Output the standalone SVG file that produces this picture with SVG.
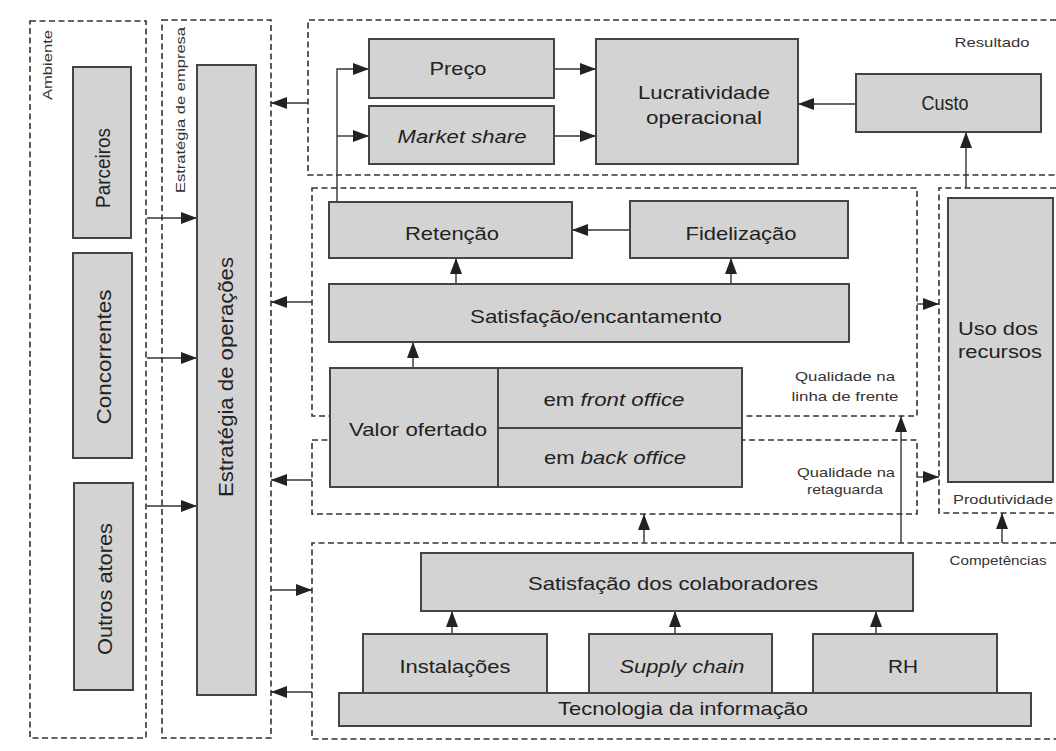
<svg xmlns="http://www.w3.org/2000/svg" width="1056" height="751" viewBox="0 0 1056 751">
  <style>
    text { font-family: "Liberation Sans", Arial, sans-serif; fill: #222; }
    .lbl { font-size: 18.5px; text-anchor: middle; }
    .big { font-size: 20px; text-anchor: middle; }
    .vlbl { font-size: 21px; text-anchor: middle; }
    .small { font-size: 13.5px; text-anchor: middle; fill: #333; }
    .vsmall { font-size: 13.5px; text-anchor: middle; fill: #333; }
    .it { font-style: italic; }
    .box { fill: #d3d3d3; stroke: #444; stroke-width: 2; }
    .div { fill: none; stroke: #444; stroke-width: 2; }
    .zone { fill: none; stroke: #333; stroke-width: 1.6; stroke-dasharray: 6 3.5; }
    .conn { fill: none; stroke: #333; stroke-width: 1.4; marker-end: url(#arrow); }
  </style>
  <defs>
    <marker id="arrow" markerUnits="userSpaceOnUse" markerWidth="16" markerHeight="12" refX="16" refY="6" orient="auto">
      <path d="M0,0 L16,6 L0,12 z" fill="#222"/>
    </marker>
  </defs>

  <rect x="0" y="0" width="1056" height="751" fill="#ffffff"/>

  <!-- dashed zones -->
  <g id="zones">
    <rect id="zone-ambiente" class="zone" x="30" y="21" width="116" height="717"/>
    <rect id="zone-estrategia-empresa" class="zone" x="162" y="20" width="109" height="718"/>
    <path id="zone-resultado" class="zone" d="M1056,20 H308 V175 H1056"/>
    <rect id="zone-linha-frente" class="zone" x="312" y="188" width="605" height="228"/>
    <rect id="zone-retaguarda" class="zone" x="312" y="440" width="605" height="74"/>
    <path id="zone-produtividade" class="zone" d="M1056,188 H939 V513 H1056"/>
    <path id="zone-competencias" class="zone" d="M1056,543 H312 V739 H1056"/>
    <text class="vsmall" transform="translate(52,65) rotate(-90)" textLength="70" lengthAdjust="spacingAndGlyphs">Ambiente</text>
    <text class="vsmall" transform="translate(185,110) rotate(-90)" textLength="166" lengthAdjust="spacingAndGlyphs">Estratégia de empresa</text>
    <text class="small" x="992" y="47" textLength="75" lengthAdjust="spacingAndGlyphs">Resultado</text>
    <text class="small" x="845" y="381" textLength="100" lengthAdjust="spacingAndGlyphs">Qualidade na</text>
    <text class="small" x="845" y="401" textLength="107" lengthAdjust="spacingAndGlyphs">linha de frente</text>
    <text class="small" x="846" y="477" textLength="98" lengthAdjust="spacingAndGlyphs">Qualidade na</text>
    <text class="small" x="845" y="494" textLength="76" lengthAdjust="spacingAndGlyphs">retaguarda</text>
    <text class="small" x="1003" y="504" textLength="100" lengthAdjust="spacingAndGlyphs">Produtividade</text>
    <text class="small" x="998" y="565" textLength="97" lengthAdjust="spacingAndGlyphs">Competências</text>
  </g>

  <!-- connectors -->
  <g id="connectors">
    <path class="conn" d="M147,218 H197"/>
    <path class="conn" d="M147,358 H197"/>
    <path class="conn" d="M147,506 H197"/>
    <path class="conn" d="M308,103 H271"/>
    <path class="conn" d="M312,302 H271"/>
    <path class="conn" d="M312,480 H271"/>
    <path class="conn" d="M312,692 H271"/>
    <path class="conn" d="M271,590 H312"/>
    <path class="conn" d="M337,202 V69 H369"/>
    <path class="conn" d="M337,136 H369"/>
    <path class="conn" d="M554,69 H596"/>
    <path class="conn" d="M554,136 H596"/>
    <path class="conn" d="M856,104 H798"/>
    <path class="conn" d="M966,188 V132"/>
    <path class="conn" d="M630,230 H572"/>
    <path class="conn" d="M456,284 V258"/>
    <path class="conn" d="M731,284 V258"/>
    <path class="conn" d="M413,368 V342"/>
    <path class="conn" d="M917,304 H939"/>
    <path class="conn" d="M917,477 H939"/>
    <path class="conn" d="M644,543 V514"/>
    <path class="conn" d="M901,543 V416"/>
    <path class="conn" d="M1002,543 V513"/>
    <path class="conn" d="M452,634 V611"/>
    <path class="conn" d="M675,634 V611"/>
    <path class="conn" d="M876,634 V611"/>
  </g>

  <!-- environment actors -->
  <g id="parceiros">
    <rect class="box" x="73" y="67" width="58" height="171"/>
    <text class="vlbl" transform="translate(110,168) rotate(-90)" textLength="80" lengthAdjust="spacingAndGlyphs">Parceiros</text>
  </g>
  <g id="concorrentes">
    <rect class="box" x="73" y="253" width="59" height="205"/>
    <text class="vlbl" transform="translate(111,357) rotate(-90)" textLength="135" lengthAdjust="spacingAndGlyphs">Concorrentes</text>
  </g>
  <g id="outros-atores">
    <rect class="box" x="74" y="483" width="59" height="207"/>
    <text class="vlbl" transform="translate(112,589) rotate(-90)" textLength="132" lengthAdjust="spacingAndGlyphs">Outros atores</text>
  </g>
  <g id="estrategia-operacoes">
    <rect class="box" x="197" y="65" width="59" height="630"/>
    <text class="vlbl" transform="translate(233,377) rotate(-90)" textLength="240" lengthAdjust="spacingAndGlyphs">Estratégia de operações</text>
  </g>

  <!-- results -->
  <g id="preco">
    <rect class="box" x="369" y="39" width="185" height="59"/>
    <text class="lbl" x="458" y="75" textLength="57" lengthAdjust="spacingAndGlyphs">Preço</text>
  </g>
  <g id="market-share">
    <rect class="box" x="369" y="106" width="185" height="58"/>
    <text class="lbl it" x="462" y="143" textLength="129" lengthAdjust="spacingAndGlyphs">Market share</text>
  </g>
  <g id="lucratividade">
    <rect class="box" x="596" y="39" width="202" height="125"/>
    <text class="lbl" x="704" y="99" textLength="132" lengthAdjust="spacingAndGlyphs">Lucratividade</text>
    <text class="lbl" x="704" y="124" textLength="116" lengthAdjust="spacingAndGlyphs">operacional</text>
  </g>
  <g id="custo">
    <rect class="box" x="856" y="74" width="185" height="58"/>
    <text class="big" x="945" y="110" textLength="47" lengthAdjust="spacingAndGlyphs">Custo</text>
  </g>

  <!-- front-line quality -->
  <g id="retencao">
    <rect class="box" x="329" y="202" width="243" height="56"/>
    <text class="lbl" x="452" y="240" textLength="94" lengthAdjust="spacingAndGlyphs">Retenção</text>
  </g>
  <g id="fidelizacao">
    <rect class="box" x="630" y="201" width="218" height="57"/>
    <text class="lbl" x="741" y="240" textLength="111" lengthAdjust="spacingAndGlyphs">Fidelização</text>
  </g>
  <g id="satisfacao-encantamento">
    <rect class="box" x="329" y="284" width="520" height="58"/>
    <text class="lbl" x="596" y="323" textLength="252" lengthAdjust="spacingAndGlyphs">Satisfação/encantamento</text>
  </g>
  <g id="valor-ofertado">
    <rect class="box" x="330" y="368" width="412" height="119"/>
    <path class="div" d="M498,368 V487 M498,428 H742"/>
    <text class="lbl" x="418" y="436" textLength="138" lengthAdjust="spacingAndGlyphs">Valor ofertado</text>
    <text class="lbl" x="614" y="406" textLength="141" lengthAdjust="spacingAndGlyphs">em <tspan class="it">front office</tspan></text>
    <text class="lbl" x="615" y="464" textLength="142" lengthAdjust="spacingAndGlyphs">em <tspan class="it">back office</tspan></text>
  </g>

  <!-- productivity -->
  <g id="uso-recursos">
    <rect class="box" x="948" y="198" width="105" height="284"/>
    <text class="lbl" x="998" y="335" textLength="80" lengthAdjust="spacingAndGlyphs">Uso dos</text>
    <text class="lbl" x="1000" y="358" textLength="84" lengthAdjust="spacingAndGlyphs">recursos</text>
  </g>

  <!-- competences -->
  <g id="satisfacao-colaboradores">
    <rect class="box" x="421" y="553" width="492" height="58"/>
    <text class="lbl" x="673" y="590" textLength="290" lengthAdjust="spacingAndGlyphs">Satisfação dos colaboradores</text>
  </g>
  <g id="instalacoes">
    <rect class="box" x="363" y="634" width="184" height="59"/>
    <text class="lbl" x="455" y="673" textLength="111" lengthAdjust="spacingAndGlyphs">Instalações</text>
  </g>
  <g id="supply-chain">
    <rect class="box" x="589" y="634" width="183" height="59"/>
    <text class="lbl it" x="682" y="673" textLength="125" lengthAdjust="spacingAndGlyphs">Supply chain</text>
  </g>
  <g id="rh">
    <rect class="box" x="813" y="634" width="184" height="59"/>
    <text class="lbl" x="903" y="673" textLength="30" lengthAdjust="spacingAndGlyphs">RH</text>
  </g>
  <g id="tecnologia-informacao">
    <rect class="box" x="339" y="693" width="692" height="33"/>
    <text class="lbl" x="683" y="715" textLength="250" lengthAdjust="spacingAndGlyphs">Tecnologia da informação</text>
  </g>
</svg>
